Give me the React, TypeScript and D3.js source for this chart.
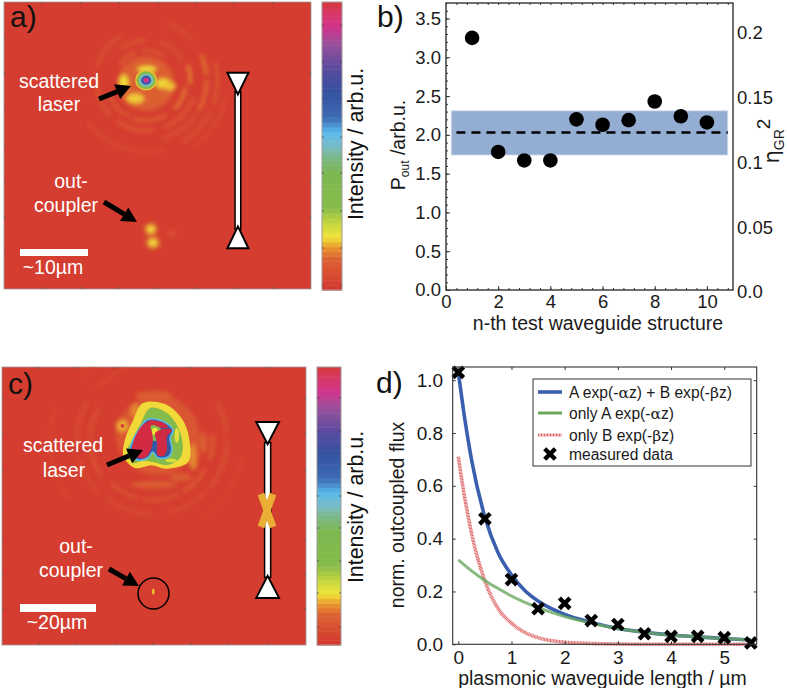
import { useEffect, useRef } from 'react'
import * as d3 from 'd3'

// b) measured output power per test structure
const structureIds = [1, 2, 3, 4, 5, 6, 7, 8, 9, 10]
const powerOut = [3.25, 1.78, 1.67, 1.67, 2.2, 2.13, 2.19, 2.43, 2.24, 2.16]
const powerMean = 2.03
const powerBand = [1.74, 2.31]
const powerTicks = [0, 0.5, 1, 1.5, 2, 2.5, 3, 3.5]
const etaTicks = [0, 0.05, 0.1, 0.15, 0.2]
const structureTicks = [0, 2, 4, 6, 8, 10]

// d) flux against waveguide length
const lengthMeasured = [0, 0.5, 1, 1.5, 2, 2.5, 3, 3.5, 4, 4.5, 5, 5.5]
const fluxMeasured = [1.03, 0.475, 0.245, 0.135, 0.155, 0.09, 0.075, 0.04, 0.03, 0.03, 0.025, 0.005]
const lengthCurve = [0, 0.1, 0.25, 0.5, 0.75, 1, 1.25, 1.5, 2, 2.5, 3, 3.5, 4, 4.5, 5, 5.5]
const fluxBoth = [1.03, 0.883, 0.698, 0.482, 0.346, 0.263, 0.204, 0.164, 0.113, 0.083, 0.06, 0.046, 0.035, 0.028, 0.022, 0.016]
const fluxA = [0.32, 0.303, 0.278, 0.242, 0.211, 0.183, 0.159, 0.139, 0.105, 0.08, 0.06, 0.046, 0.035, 0.028, 0.022, 0.016]
const fluxB = [0.71, 0.58, 0.42, 0.24, 0.135, 0.08, 0.045, 0.025, 0.008, 0.003, 0.001, 0, 0, 0, 0, 0]
const lengthTicks = [0, 1, 2, 3, 4, 5]
const fluxTicks = [0, 0.2, 0.4, 0.6, 0.8, 1]

// colour bar: intensity position and colour
const barPos = [0, 0.1, 0.14, 0.175, 0.22, 0.28, 0.4, 0.46, 0.49, 0.54, 0.59, 0.68, 0.76, 0.845, 0.91, 0.97, 1]
const barColor = ['#d3392f', '#dd6232', '#e8952f', '#f1e43a', '#c9d840', '#85bb4a', '#7cb850', '#7cb890', '#7bbcc5', '#5abbec', '#3d6cb4', '#34529f', '#5a4a9f', '#98509b', '#d5338a', '#d63a55', '#d3392f']

// a) intensity map, positions in um: [x, y, rx, ry, intensity]
const spotsA = [
  [20.9, 12, 4.2, 4, 0.09],
  [21, 9.9, 1.4, 0.5, 0.17],
  [17.6, 11.8, 0.7, 1.1, 0.17],
  [19.3, 14.2, 1.3, 0.7, 0.165],
  [23.4, 12, 1.1, 0.7, 0.17],
  [24.4, 12.4, 0.9, 0.6, 0.16],
  [21.6, 33.4, 1.1, 1.1, 0.09],
  [21.9, 35.4, 1.2, 1.1, 0.09],
  [21.6, 33.4, 0.6, 0.55, 0.17],
  [21.9, 35.4, 0.65, 0.55, 0.17],
  [24.7, 34, 0.6, 0.6, 0.05],
]
// nested core of the laser spot, outermost first
const coreA = [
  [20.9, 11.5, 1.6, 1.5, 0.16],
  [20.9, 11.5, 1.4, 1.3, 0.3],
  [20.9, 11.5, 1.05, 0.95, 0.49],
  [20.9, 11.5, 0.75, 0.68, 0.64],
  [20.9, 11.5, 0.38, 0.35, 0.91],
]
// rings around the laser spot: [radius, from deg, to deg, intensity]
const ringsA = [
  [4.4, -60, -20, 0.09],
  [4.4, -10, 40, 0.08],
  [5.9, 100, 135, 0.12],
  [5.9, 150, 200, 0.1],
  [5.9, 205, 250, 0.08],
  [5.9, -40, 0, 0.07],
  [6, 20, 60, 0.06],
  [6.5, 70, 95, 0.13],
  [7.4, 110, 160, 0.08],
  [7.4, 170, 215, 0.08],
  [7.4, 225, 265, 0.07],
  [7.5, -75, -30, 0.06],
  [8.9, 65, 85, 0.12],
  [8.9, 90, 120, 0.11],
  [8.9, 125, 165, 0.06],
  [9, 20, 50, 0.05],
  [10.5, 75, 110, 0.08],
  [10.5, 115, 150, 0.06],
  [10.5, 165, 235, 0.045],
  [12, 100, 145, 0.04],
]

// c) intensity map, saturated outlines in um
const haloC = [[37.1, 9.5], [43, 9.8], [47.6, 14], [49.5, 20.5], [49, 25], [43, 26.8], [39.5, 25.9], [35, 26.6], [32, 23.5], [32.4, 19], [34.5, 14]]
const greenC = [[39, 10.8], [43.4, 12.1], [46.3, 15.8], [47.6, 21.1], [46.8, 24], [43.4, 25.8], [39.7, 25], [37.1, 24.7], [34.5, 25.3], [32.9, 22.6], [34.2, 19.2], [36.3, 15.3]]
const blueC = [[38.2, 13.9], [42.1, 14.2], [45, 16.6], [44.2, 18.7], [44.7, 21.8], [43.7, 23.7], [41, 23.9], [39.7, 22.4], [38.4, 23.9], [35.8, 24.5], [33.7, 22.6], [34.5, 19.2], [36.3, 16.1]]
const redLeftC = [[38.4, 14.5], [36.3, 16.1], [34.5, 20], [34.2, 22.6], [35.8, 23.9], [37.6, 23.9], [38.9, 22.4], [39.7, 19.2], [39.2, 16.3]]
const redRightC = [[40.3, 17.4], [42.6, 16.3], [44.7, 16.6], [43.4, 18.4], [43.4, 21.8], [42.6, 23.4], [41, 23.2], [40.8, 20]]
const redTopC = [[38.4, 14.2], [42.1, 14.5], [43.7, 15.8], [42.1, 16.1], [39.7, 15.3], [38.7, 15.8]]
const spotsC = [
  [41, 18, 11, 10.5, 0.07],
  [50.3, 23.7, 1.2, 3.4, 0.13],
  [53, 20, 1, 3, 0.09],
  [47, 29, 3, 1, 0.09],
  [40, 31, 6, 1, 0.09],
  [31.6, 15.5, 1.6, 1.6, 0.15],
  [35, 11.5, 1.2, 2, 0.13],
  [40, 7.5, 5, 1.2, 0.09],
]
// mottling on the green part
const mottleC = [
  [46, 18, 0.6, 2, 0.19],
  [44.5, 24.6, 1.4, 0.5, 0.2],
  [31.7, 15.5, 0.5, 0.5, 0.02],
]
const ringsC = [
  [15.8, 85, 110, 0.1],
  [15.8, 120, 150, 0.09],
  [15.8, 155, 190, 0.08],
  [15.8, 195, 225, 0.07],
  [19.5, 60, 85, 0.06],
  [19.5, 90, 130, 0.06],
  [19.5, 135, 170, 0.05],
  [19.5, 180, 220, 0.05],
  [16.5, 235, 265, 0.07],
  [16.5, 270, 300, 0.06],
  [20, 225, 255, 0.05],
  [20, 265, 300, 0.05],
  [20, -50, -20, 0.04],
  [24, 100, 150, 0.03],
  [27, 235, 290, 0.035],
  [25, -50, 10, 0.03],
]

const sans = '"Liberation Sans", Arial, sans-serif'

function drawText(g: any, s: string, x: number, y: number, size: number, fill: string, anchor = 'start') {
  return g.append('text').attr('x', x).attr('y', y).attr('font-size', size).attr('fill', fill)
    .attr('text-anchor', anchor).attr('font-family', sans).text(s)
}

function drawArrow(g: any, x0: number, y0: number, x1: number, y1: number) {
  const a = Math.atan2(y1 - y0, x1 - x0)
  const len = 15
  const hw = 8
  const bx = x1 - len * Math.cos(a)
  const by = y1 - len * Math.sin(a)
  g.append('line').attr('x1', x0).attr('y1', y0).attr('x2', bx).attr('y2', by).attr('stroke', '#000').attr('stroke-width', 5)
  g.append('path').attr('fill', '#000').attr('d', d3.line()([
    [x1, y1],
    [bx - hw * Math.sin(a), by + hw * Math.cos(a)],
    [bx + hw * Math.sin(a), by - hw * Math.cos(a)],
  ]) + 'Z')
}

function drawColorBar(g: any, heat: any, x: number, y: number, w: number, h: number, ticks: number[]) {
  const steps = d3.range(0, 1, 1 / 60)
  const yb = d3.scaleLinear().domain([0, 1]).range([y + h, y])
  g.selectAll(null).data(steps).enter().append('rect')
    .attr('x', x).attr('width', w)
    .attr('y', (d: number) => yb(d + 1 / 60))
    .attr('height', h / 60 + 0.5)
    .attr('fill', (d: number) => heat(d))
  g.append('rect').attr('x', x).attr('y', y).attr('width', w).attr('height', h)
    .attr('fill', 'none').attr('stroke', '#a09a9a').attr('stroke-width', 1)
  ticks.forEach((t) => {
    g.append('line').attr('x1', x).attr('x2', x + 2).attr('y1', t).attr('y2', t).attr('stroke', '#444').attr('stroke-width', 0.7)
    g.append('line').attr('x1', x + w - 2).attr('x2', x + w).attr('y1', t).attr('y2', t).attr('stroke', '#444').attr('stroke-width', 0.7)
  })
}

function drawHeatSpots(g: any, heat: any, sx: any, sy: any, k: number, spots: number[][]) {
  spots.forEach(([x, y, rx, ry, v]) => {
    g.append('ellipse').attr('cx', sx(x)).attr('cy', sy(y)).attr('rx', rx * k).attr('ry', ry * k).attr('fill', heat(v))
  })
}

function drawRings(g: any, heat: any, cx: number, cy: number, k: number, w: number, rings: number[][]) {
  const arc = d3.arc()
  rings.forEach(([r, a0, a1, v]) => {
    g.append('path').attr('transform', `translate(${cx},${cy})`).attr('fill', heat(v)).attr('d', arc({
      innerRadius: r * k - w / 2,
      outerRadius: r * k + w / 2,
      startAngle: (a0 * Math.PI) / 180,
      endAngle: (a1 * Math.PI) / 180,
    } as any))
  })
}

// white double-taper waveguide sketch
function drawWaveguide(g: any, sx: any, sy: any, cx: number, top: number, bottom: number, hw: number, tri: number, stem: number, sw: number) {
  g.append('rect').attr('x', sx(cx - stem)).attr('y', sy(top + tri - 0.4)).attr('width', sx(cx + stem) - sx(cx - stem))
    .attr('height', sy(bottom - tri + 0.4) - sy(top + tri - 0.4)).attr('fill', '#fff').attr('stroke', '#000').attr('stroke-width', sw)
  const tris = [
    [[cx - hw, top], [cx + hw, top], [cx, top + tri]],
    [[cx - hw, bottom], [cx + hw, bottom], [cx, bottom - tri]],
  ]
  tris.forEach((t) => {
    g.append('path').attr('fill', '#fff').attr('stroke', '#000').attr('stroke-width', 2).attr('stroke-linejoin', 'miter')
      .attr('d', d3.line().x((d: any) => sx(d[0])).y((d: any) => sy(d[1]))(t as any) + 'Z')
  })
}

function drawImageTicks(g: any, x0: number, x1: number, y0: number, y1: number, xs: number[], ys: number[]) {
  xs.forEach((x) => {
    g.append('line').attr('x1', x).attr('x2', x).attr('y1', y0).attr('y2', y0 + 2).attr('stroke', '#555').attr('stroke-width', 0.8)
    g.append('line').attr('x1', x).attr('x2', x).attr('y1', y1 - 2).attr('y2', y1).attr('stroke', '#555').attr('stroke-width', 0.8)
  })
  ys.forEach((y) => {
    g.append('line').attr('x1', x0).attr('x2', x0 + 2).attr('y1', y).attr('y2', y).attr('stroke', '#555').attr('stroke-width', 0.8)
    g.append('line').attr('x1', x1 - 2).attr('x2', x1).attr('y1', y).attr('y2', y).attr('stroke', '#555').attr('stroke-width', 0.8)
  })
}

function styleAxis(sel: any, size: number) {
  sel.selectAll('text').attr('font-family', sans).attr('font-size', size).attr('fill', '#1a1a1a')
  sel.selectAll('line').attr('stroke', '#333')
  sel.select('.domain').remove()
}

export default function App() {
  const ref = useRef<SVGSVGElement>(null)

  useEffect(() => {
    if (!ref.current) return
    const svg = d3.select(ref.current)
    svg.selectAll('*').remove()

    const heat = d3.scaleLinear<string>().domain(barPos).range(barColor)
    const defs = svg.append('defs')
    defs.append('filter').attr('id', 'blur').attr('x', '-30%').attr('y', '-30%').attr('width', '160%').attr('height', '160%')
      .append('feGaussianBlur').attr('stdDeviation', 2.1)
    defs.append('filter').attr('id', 'soft').attr('x', '-30%').attr('y', '-30%').attr('width', '160%').attr('height', '160%')
      .append('feGaussianBlur').attr('stdDeviation', 0.7)
    defs.append('clipPath').attr('id', 'clipA').append('rect').attr('x', 4).attr('y', 2).attr('width', 307).attr('height', 287)
    defs.append('clipPath').attr('id', 'clipC').append('rect').attr('x', 2).attr('y', 367).attr('width', 304).attr('height', 278)

    const closed = (sx: any, sy: any) =>
      d3.line().x((d: any) => sx(d[0])).y((d: any) => sy(d[1])).curve(d3.curveCatmullRomClosed.alpha(0.5))

    // panel a
    const aX = d3.scaleLinear().domain([0, 45.15]).range([4, 311])
    const aY = d3.scaleLinear().domain([0, 42.2]).range([2, 289])
    const kA = 6.8
    const a = svg.append('g')
    a.append('rect').attr('x', 4).attr('y', 2).attr('width', 307).attr('height', 287).attr('fill', heat(0.01)).attr('stroke', '#999').attr('stroke-width', 0.8)
    const aHeat = a.append('g').attr('clip-path', 'url(#clipA)')
    const aBlur = aHeat.append('g').attr('filter', 'url(#blur)')
    drawRings(aBlur, heat, aX(20.9), aY(11.5), kA, 3.2, ringsA)
    drawHeatSpots(aBlur, heat, aX, aY, kA, spotsA)
    const aCore = aHeat.append('g').attr('filter', 'url(#soft)')
    drawHeatSpots(aCore, heat, aX, aY, kA, coreA)
    drawImageTicks(a, 4, 311, 2, 289, [42, 81, 119, 158, 196, 234, 273], [38, 73, 109, 146, 182, 217, 253])
    drawWaveguide(a, aX, aY, 34.4, 10.4, 36.2, 1.55, 3.2, 0.42, 1.5)
    drawArrow(a, 99, 99, 131, 86)
    drawArrow(a, 104, 202, 137, 222)
    drawText(a, 'scattered', 59, 88, 19.5, '#fff', 'middle')
    drawText(a, 'laser', 59, 111, 19.5, '#fff', 'middle')
    drawText(a, 'out-', 71, 188, 19.5, '#fff', 'middle')
    drawText(a, 'coupler', 66, 212, 19.5, '#fff', 'middle')
    a.append('rect').attr('x', 20).attr('y', 249).attr('width', 68).attr('height', 7).attr('fill', '#fff')
    drawText(a, '~10µm', 53, 274, 19.5, '#fff', 'middle')
    drawText(a, 'a)', 10, 27, 30, '#111')
    drawColorBar(a, heat, 322, 2, 20, 288, [25, 62, 99, 137, 173, 211, 248, 285])
    drawText(a, 'Intensity / arb.u.', 0, 0, 21.4, '#111', 'middle').attr('transform', 'translate(362.7,144) rotate(-90)')

    // panel c
    const cX = d3.scaleLinear().domain([0, 80]).range([2, 306])
    const cY = d3.scaleLinear().domain([0, 73.2]).range([367, 645])
    const kC = 3.8
    const c = svg.append('g')
    c.append('rect').attr('x', 2).attr('y', 367).attr('width', 304).attr('height', 278).attr('fill', heat(0.01)).attr('stroke', '#999').attr('stroke-width', 0.8)
    const cHeat = c.append('g').attr('clip-path', 'url(#clipC)')
    const cBlur = cHeat.append('g').attr('filter', 'url(#blur)')
    drawHeatSpots(cBlur, heat, cX, cY, kC, spotsC)
    drawRings(cBlur, heat, cX(39.7), cY(19.2), kC, 3.2, ringsC)
    const blob = closed(cX, cY)
    const cSat = cHeat.append('g').attr('filter', 'url(#soft)')
    cSat.append('path').attr('d', blob(haloC as any)).attr('fill', heat(0.17))
    cSat.append('path').attr('d', blob(greenC as any)).attr('fill', heat(0.3))
    drawHeatSpots(cSat, heat, cX, cY, kC, mottleC)
    cSat.append('path').attr('d', blob(blueC as any)).attr('fill', heat(0.66)).attr('stroke', heat(0.54)).attr('stroke-width', 1.6)
    cSat.append('ellipse').attr('cx', cX(40.2)).attr('cy', cY(17.2)).attr('rx', 1.7 * kC).attr('ry', 2.3 * kC).attr('fill', heat(0.3))
    cSat.append('ellipse').attr('cx', cX(40.2)).attr('cy', cY(17)).attr('rx', 0.8 * kC).attr('ry', 1 * kC).attr('fill', heat(0.18))
    cSat.selectAll('path.red').data([redLeftC, redRightC, redTopC]).enter().append('path').attr('class', 'red')
      .attr('d', (d: any) => blob(d)).attr('fill', '#d22c42')
    cHeat.append('ellipse').attr('cx', cX(39.8)).attr('cy', cY(59.1)).attr('rx', 0.35 * kC).attr('ry', 0.8 * kC).attr('fill', heat(0.16)).attr('filter', 'url(#soft)')
    drawImageTicks(c, 2, 306, 367, 645, [39, 77, 115, 153, 191, 229, 267], [398, 434, 470, 504, 539, 574, 609])
    drawWaveguide(c, cX, cY, 69.9, 14.5, 60.8, 3, 5.8, 0.8, 1.5)
    c.selectAll('line.junction').data([[-1, 1], [1, 1]]).enter().append('line').attr('class', 'junction')
      .attr('x1', (d) => 267 + d[0] * 6).attr('x2', (d) => 267 - d[0] * 6)
      .attr('y1', 494).attr('y2', 527).attr('stroke', '#e9ae33').attr('stroke-width', 7)
    c.append('circle').attr('cx', 153.5).attr('cy', 593.5).attr('r', 15.5).attr('fill', 'none').attr('stroke', '#000').attr('stroke-width', 1.5)
    drawArrow(c, 107, 465, 143, 450)
    drawArrow(c, 109, 569, 139, 586)
    drawText(c, 'scattered', 63, 452, 19.5, '#fff', 'middle')
    drawText(c, 'laser', 64, 477, 19.5, '#fff', 'middle')
    drawText(c, 'out-', 76, 553, 19.5, '#fff', 'middle')
    drawText(c, 'coupler', 71, 577, 19.5, '#fff', 'middle')
    c.append('rect').attr('x', 20).attr('y', 604).attr('width', 76).attr('height', 8).attr('fill', '#fff')
    drawText(c, '~20µm', 57, 629, 19.5, '#fff', 'middle')
    drawText(c, 'c)', 8, 394, 30, '#111')
    drawColorBar(c, heat, 317, 367, 24, 278, [398, 431, 464, 496, 528, 561, 593, 627])
    drawText(c, 'Intensity / arb.u.', 0, 0, 21.4, '#111', 'middle').attr('transform', 'translate(362.5,507) rotate(-90)')

    // panel b
    const bX = d3.scaleLinear().domain([0, 11]).range([446, 733])
    const bY = d3.scaleLinear().domain([0, 3.7]).range([290, 3])
    const etaY = d3.scaleLinear().domain([0, 0.2]).range([292, 33])
    const b = svg.append('g')
    b.append('rect').attr('x', bX(0.2)).attr('width', bX(10.8) - bX(0.2)).attr('y', bY(powerBand[1]))
      .attr('height', bY(powerBand[0]) - bY(powerBand[1])).attr('fill', '#94add2').attr('stroke', '#d3deee').attr('stroke-width', 0.8)
    b.append('line').attr('x1', bX(0.4)).attr('x2', bX(10.8)).attr('y1', bY(powerMean)).attr('y2', bY(powerMean))
      .attr('stroke', '#000').attr('stroke-width', 2.6).attr('stroke-dasharray', '9 6')
    b.selectAll('circle').data(structureIds).enter().append('circle')
      .attr('cx', (d) => bX(d)).attr('cy', (_, i) => bY(powerOut[i])).attr('r', 7.3).attr('fill', '#000')
    const bBottom = b.append('g').attr('transform', 'translate(0,290)')
      .call(d3.axisBottom(bX).tickValues(structureTicks).tickFormat((d) => `${d}`).tickSize(-4).tickPadding(5) as any)
    styleAxis(bBottom, 18.5)
    const bLeft = b.append('g').attr('transform', 'translate(446,0)')
      .call(d3.axisLeft(bY).tickValues(powerTicks).tickFormat(d3.format('.1f') as any).tickSize(-4).tickPadding(5) as any)
    styleAxis(bLeft, 18.5)
    const bTop = b.append('g').attr('transform', 'translate(0,3)')
      .call(d3.axisTop(bX).tickValues(d3.range(0, 11, 0.4)).tickFormat(() => '').tickSize(-2) as any)
    styleAxis(bTop, 1)
    const bMinor = b.append('g').attr('transform', 'translate(0,290)')
      .call(d3.axisBottom(bX).tickValues(d3.range(0, 11, 0.4)).tickFormat(() => '').tickSize(-2) as any)
    styleAxis(bMinor, 1)
    const bMinorY = b.append('g').attr('transform', 'translate(446,0)')
      .call(d3.axisLeft(bY).tickValues(d3.range(0, 3.7, 0.1)).tickFormat(() => '').tickSize(-2) as any)
    styleAxis(bMinorY, 1)
    const bRight = b.append('g').attr('transform', 'translate(733,0)')
      .call(d3.axisRight(etaY).tickValues(etaTicks).tickFormat((d) => `${d}`.replace(/^0$/, '0.0')).tickSize(0).tickPadding(4) as any)
    styleAxis(bRight, 18.5)
    b.append('rect').attr('x', 446).attr('y', 3).attr('width', 287).attr('height', 287).attr('fill', 'none').attr('stroke', '#333').attr('stroke-width', 1.4)
    drawText(b, 'n-th test waveguide structure', 598, 330, 19.5, '#1a1a1a', 'middle')
    const pLabel = drawText(b, '', 0, 0, 19.5, '#1a1a1a', 'middle').attr('transform', 'translate(405,145) rotate(-90)')
    pLabel.append('tspan').text('P')
    pLabel.append('tspan').attr('font-size', 12).attr('dy', 4).text('out')
    pLabel.append('tspan').attr('dy', -4).text(' /arb.u.')
    const etaLabel = drawText(b, '', 0, 0, 21, '#1a1a1a', 'middle').attr('transform', 'translate(779,141) rotate(-90)')
    etaLabel.append('tspan').attr('font-family', '"DejaVu Sans", sans-serif').text('η')
    etaLabel.append('tspan').attr('font-size', 14).attr('dy', 5).text('GR')
    etaLabel.append('tspan').attr('font-size', 19).attr('dy', -14).text('2')
    drawText(b, 'b)', 377, 27, 30, '#111')

    // panel d
    const dX = d3.scaleLinear().domain([-0.105, 5.61]).range([452.7, 756.7])
    const dY = d3.scaleLinear().domain([0, 1.05]).range([644.3, 367])
    const d = svg.append('g')
    const curve = d3.line<number>().x((_, i) => dX(lengthCurve[i])).y((v) => dY(v)).curve(d3.curveMonotoneX)
    d.append('path').attr('d', curve(fluxB)).attr('fill', 'none').attr('stroke', '#dd6a6a').attr('stroke-width', 3.6).attr('stroke-dasharray', '1 0.5')
    d.append('path').attr('d', curve(fluxBoth)).attr('fill', 'none').attr('stroke', '#3a5fae').attr('stroke-width', 3.6)
    d.append('path').attr('d', curve(fluxA)).attr('fill', 'none').attr('stroke', '#6aa85e').attr('stroke-width', 3).attr('stroke-opacity', 0.8)
    const cross = d3.symbol().type(d3.symbolTimes).size(75)
    d.selectAll('path.measured').data(lengthMeasured).enter().append('path').attr('class', 'measured')
      .attr('transform', (v, i) => `translate(${dX(v)},${dY(fluxMeasured[i])})`)
      .attr('d', cross() as string).attr('fill', 'none').attr('stroke', '#000').attr('stroke-width', 4.4)
    const dBottom = d.append('g').attr('transform', 'translate(0,644.3)')
      .call(d3.axisBottom(dX).tickValues(lengthTicks).tickFormat((v) => `${v}`).tickSize(-3).tickPadding(6) as any)
    styleAxis(dBottom, 19)
    const dLeft = d.append('g').attr('transform', 'translate(452.7,0)')
      .call(d3.axisLeft(dY).tickValues(fluxTicks).tickFormat(d3.format('.1f') as any).tickSize(-3).tickPadding(9.5) as any)
    styleAxis(dLeft, 19)
    const dTop = d.append('g').attr('transform', 'translate(0,367)')
      .call(d3.axisTop(dX).tickValues(lengthTicks).tickFormat(() => '').tickSize(-3) as any)
    styleAxis(dTop, 1)
    const dRight = d.append('g').attr('transform', 'translate(756.7,0)')
      .call(d3.axisRight(dY).tickValues(fluxTicks).tickFormat(() => '').tickSize(-3) as any)
    styleAxis(dRight, 1)
    d.append('rect').attr('x', 452.7).attr('y', 367).attr('width', 304).attr('height', 277.3).attr('fill', 'none').attr('stroke', '#333').attr('stroke-width', 1.1)
    d.append('rect').attr('x', 533).attr('y', 379).attr('width', 218).attr('height', 87).attr('fill', '#fff').attr('stroke', '#333').attr('stroke-width', 1)
    const legendRows = [392, 413, 435, 454]
    const legendLabels = [
      ['A exp(-', 'α', 'z) + B exp(-', 'β', 'z)'],
      ['only A exp(-', 'α', 'z)'],
      ['only B exp(-', 'β', 'z)'],
      ['measured data'],
    ]
    const legendStroke = ['#3a5fae', '#6aa85e', '#dd6a6a']
    legendRows.forEach((y, i) => {
      if (i < 3) {
        d.append('line').attr('x1', 538).attr('x2', 562).attr('y1', y).attr('y2', y)
          .attr('stroke', legendStroke[i]).attr('stroke-width', i === 0 ? 3.6 : 3)
          .attr('stroke-dasharray', i === 2 ? '1 0.5' : null)
      } else {
        d.append('path').attr('transform', `translate(550,${y})`).attr('d', cross() as string)
          .attr('fill', 'none').attr('stroke', '#000').attr('stroke-width', 4.4)
      }
      const t = drawText(d, '', 569, y + 5.5, 15.6, '#1a1a1a')
      legendLabels[i].forEach((s) => {
        const greek = s === 'α' || s === 'β'
        t.append('tspan').attr('font-family', greek ? '"DejaVu Serif", serif' : sans).text(s)
      })
    })
    drawText(d, 'plasmonic waveguide length / µm', 602.5, 685, 19.5, '#1a1a1a', 'middle')
    drawText(d, 'norm. outcoupled flux', 0, 0, 19.5, '#1a1a1a', 'middle').attr('transform', 'translate(404,515) rotate(-90)')
    drawText(d, 'd)', 376, 393, 30, '#111')
  }, [])

  return (
    <svg
      ref={ref}
      width={787}
      height={688}
      viewBox="0 0 787 688"
      style={{ position: 'absolute', left: 0, top: 0, background: '#fff' }}
    />
  )
}
